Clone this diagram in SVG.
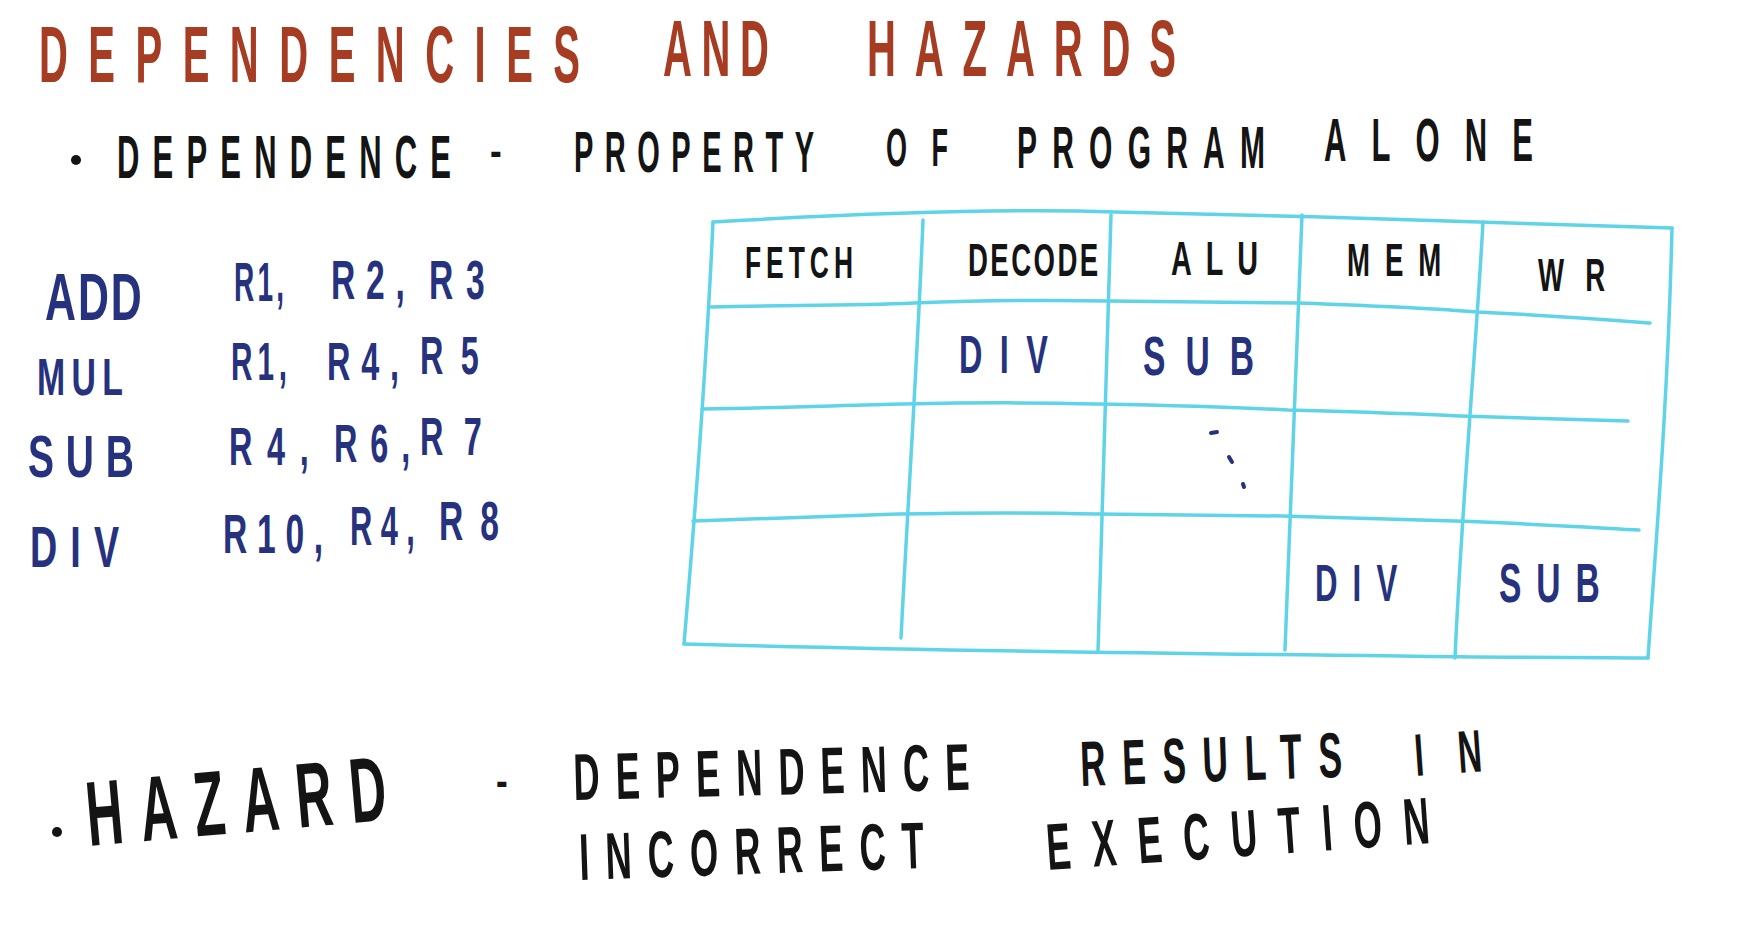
<svg xmlns="http://www.w3.org/2000/svg" width="1748" height="948" viewBox="0 0 1748 948">
<style>
text{font-family:"Liberation Sans",Arial,sans-serif;font-weight:bold;}
.title{fill:#a63c22;font-size:80px;}
.blk{fill:#141414;}
.navy{fill:#26327e;}
.grid{fill:none;stroke:#5fd3e8;stroke-width:3.5;stroke-linecap:round;stroke-linejoin:round;}
</style>
<rect width="1748" height="948" fill="#ffffff"/>
<g id="title">
<text class="title" transform="translate(39 82) scale(0.5 1)" textLength="1082">DEPENDENCIES</text>
<text class="title" transform="translate(663 76) scale(0.5 1)" textLength="212">AND</text>
<text class="title" transform="translate(867 76) scale(0.5 1)" textLength="618">HAZARDS</text>
</g>
<g id="dependence-line">
<circle cx="76" cy="160" r="5" fill="#141414"/>
<text class="blk" font-size="62" transform="translate(117 178) scale(0.5 1)" textLength="668">DEPENDENCE</text>
<text class="blk" font-size="44" transform="translate(490 166) scale(0.8 1)">-</text>
<text class="blk" font-size="58" transform="translate(574 172) scale(0.5 1)" textLength="480">PROPERTY</text>
<text class="blk" font-size="54" transform="translate(886 166) scale(0.5 1)" textLength="124">OF</text>
<text class="blk" font-size="60" transform="translate(1017 168) scale(0.5 1)" textLength="496">PROGRAM</text>
<text class="blk" font-size="62" transform="translate(1324 161) scale(0.5 1)" textLength="418">ALONE</text>
</g>
<g id="instructions">
<text class="navy" font-size="66" transform="translate(45 320) scale(0.65 1)" textLength="149">ADD</text>
<text class="navy" font-size="56" transform="translate(234 301) scale(0.5 1)" textLength="100">R1,</text>
<text class="navy" font-size="56" transform="translate(331 299) scale(0.6 1)" textLength="123">R2,</text>
<text class="navy" font-size="56" transform="translate(429 299) scale(0.6 1)" textLength="93">R3</text>
<text class="navy" font-size="52" transform="translate(37 395) scale(0.65 1)" textLength="132">MUL</text>
<text class="navy" font-size="54" transform="translate(231 380) scale(0.55 1)" textLength="102">R1,</text>
<text class="navy" font-size="54" transform="translate(327 380) scale(0.6 1)" textLength="120">R4,</text>
<text class="navy" font-size="54" transform="translate(420 374) scale(0.6 1)" textLength="98">R5</text>
<text class="navy" font-size="60" transform="translate(28 477) scale(0.65 1)" textLength="163">SUB</text>
<text class="navy" font-size="54" transform="translate(229 465) scale(0.6 1)" textLength="133">R4,</text>
<text class="navy" font-size="54" transform="translate(334 462) scale(0.6 1)" textLength="127">R6,</text>
<text class="navy" font-size="54" transform="translate(420 455) scale(0.6 1)" textLength="103">R7</text>
<text class="navy" font-size="58" transform="translate(30 567) scale(0.65 1)" textLength="137">DIV</text>
<text class="navy" font-size="56" transform="translate(223 553) scale(0.6 1)" textLength="167">R10,</text>
<text class="navy" font-size="56" transform="translate(350 545) scale(0.55 1)" textLength="118">R4,</text>
<text class="navy" font-size="56" transform="translate(439 540) scale(0.6 1)" textLength="100">R8</text>
</g>
<g id="pipeline-table">
<path class="grid" d="M713,222 C850,214 1000,208 1115,212 C1300,216 1500,222 1672,228"/>
<path class="grid" d="M713,222 C708,330 698,480 684,644"/>
<path class="grid" d="M1672,228 C1668,400 1656,540 1648,658"/>
<path class="grid" d="M684,644 C900,650 1200,654 1400,656 C1520,658 1600,657 1648,658"/>
<path class="grid" d="M711,307 C780,305 850,306 914,303 C1000,300 1060,300 1109,301 C1200,302 1260,302 1299,303 C1380,306 1430,308 1477,312 C1560,316 1610,320 1650,323"/>
<path class="grid" d="M702,409 C780,408 850,405 903,404 C1000,402 1060,403 1098,404 C1200,406 1250,408 1288,410 C1360,412 1420,414 1460,416 C1540,418 1600,420 1628,421"/>
<path class="grid" d="M693,521 C780,518 850,516 898,514 C1000,512 1060,513 1098,514 C1200,515 1250,516 1282,516 C1360,518 1420,520 1455,521 C1540,524 1600,528 1639,530"/>
<path class="grid" d="M923,220 C918,350 908,500 901,638"/>
<path class="grid" d="M1111,215 C1108,350 1102,500 1098,652"/>
<path class="grid" d="M1302,215 C1298,350 1290,500 1285,650"/>
<path class="grid" d="M1483,222 C1476,350 1462,500 1455,658"/>
</g>
<g id="table-headers">
<text class="blk" font-size="44" transform="translate(745 278) scale(0.6 1)" textLength="180">FETCH</text>
<text class="blk" font-size="46" transform="translate(968 276) scale(0.6 1)" textLength="217">DECODE</text>
<text class="blk" font-size="48" transform="translate(1171 275) scale(0.6 1)" textLength="145">ALU</text>
<text class="blk" font-size="46" transform="translate(1347 276) scale(0.6 1)" textLength="157">MEM</text>
<text class="blk" font-size="46" transform="translate(1538 291) scale(0.6 1)" textLength="112">WR</text>
</g>
<g id="table-cells">
<text class="navy" font-size="54" transform="translate(959 373) scale(0.6 1)" textLength="148">DIV</text>
<text class="navy" font-size="56" transform="translate(1143 375) scale(0.6 1)" textLength="185">SUB</text>
<path d="M1211,433 L1217,432 M1229,457 L1232,462 M1243,484 L1244,487" fill="none" stroke="#26327e" stroke-width="4" stroke-linecap="round"/>
<text class="navy" font-size="52" transform="translate(1315 601) scale(0.6 1)" textLength="137">DIV</text>
<text class="navy" font-size="56" transform="translate(1499 602) scale(0.6 1)" textLength="168">SUB</text>
</g>
<g id="hazard-line">
<circle cx="57" cy="832" r="5" fill="#141414"/>
<text class="blk" font-size="92" transform="translate(89 846) rotate(-5) scale(0.55 1)" textLength="547">HAZARD</text>
<text class="blk" font-size="44" transform="translate(496 796) scale(0.8 1)">-</text>
<text class="blk" font-size="66" transform="translate(574 800) rotate(-1.5) scale(0.55 1)" textLength="720">DEPENDENCE</text>
<text class="blk" font-size="64" transform="translate(1081 786) rotate(-2) scale(0.55 1)" textLength="476">RESULTS</text>
<text class="blk" font-size="60" transform="translate(1416 776) rotate(-4) scale(0.55 1)" textLength="122">IN</text>
<text class="blk" font-size="66" transform="translate(580 880) rotate(-2) scale(0.55 1)" textLength="627">INCORRECT</text>
<text class="blk" font-size="66" transform="translate(1048 870) rotate(-4) scale(0.55 1)" textLength="698">EXECUTION</text>
</g>
</svg>
